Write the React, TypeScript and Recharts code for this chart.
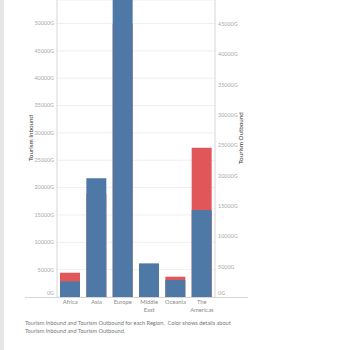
import React from 'react';
import { ComposedChart, Bar, XAxis, YAxis, CartesianGrid } from 'recharts';

const regions = ['Africa', 'Asia', 'Europe', 'Middle East', 'Oceania', 'The Americas'];
const inbound = [2850, 21700, 60000, 6150, 3100, 15900];
const outbound = [4000, 17000, 45000, 4500, 3350, 24600];
const leftTicks = [0, 5000, 10000, 15000, 20000, 25000, 30000, 35000, 40000, 45000, 50000];
const rightTicks = [0, 5000, 10000, 15000, 20000, 25000, 30000, 35000, 40000, 45000];
const caption1 = 'Tourism Inbound and Tourism Outbound for each Region.  Color shows details about';
const caption2 = 'Tourism Inbound and Tourism Outbound.';

const data = regions.map((r, i) => ({ region: r, inbound: inbound[i], outbound: outbound[i] }));

const FONT = 'Lato, "Open Sans", sans-serif';

const LeftTick = (props: any) => {
  const { x, y, payload } = props;
  const dy = payload.value === 0 ? -4 : 0;
  return (
    <text x={x} y={y + dy} dy="0.35em" textAnchor="end" fontSize={5.4} fill="#a8a8a8" fontFamily={FONT}>
      {`${payload.value}G`}
    </text>
  );
};

const RightTick = (props: any) => {
  const { x, y, payload } = props;
  const dy = payload.value === 0 ? -4 : 0;
  return (
    <text x={x} y={y + dy} dy="0.35em" textAnchor="start" fontSize={5.4} fill="#a8a8a8" fontFamily={FONT}>
      {`${payload.value}G`}
    </text>
  );
};

const XTick = (props: any) => {
  const { x, y, payload } = props;
  const parts = String(payload.value).split(' ');
  return (
    <text x={x} y={y} textAnchor="middle" fontSize={5.8} fill="#8a8a8a" fontFamily={FONT}>
      {parts.map((p, i) => (
        <tspan key={i} x={x} y={y + 7 + i * 8}>{p}</tspan>
      ))}
    </text>
  );
};

export default function App() {
  return (
    <div style={{ position: 'absolute', left: 0, top: 0, width: 350, height: 350, background: '#fff', overflow: 'hidden' }}>
      <div style={{ position: 'absolute', left: 0, top: 0, width: 4, height: 350, background: '#e6e6e6' }} />
      <ComposedChart width={350} height={350} data={data} margin={{ top: 0, right: 0, bottom: 0, left: 0 }}>
        <CartesianGrid yAxisId="left" xAxisId="a" vertical={false} stroke="#efefef" />
        <XAxis xAxisId="a" dataKey="region" height={53} axisLine={false} tickLine={false} tickSize={0} tickMargin={0} tick={<XTick />} interval={0} />
        <XAxis xAxisId="b" dataKey="region" hide />
        <YAxis
          yAxisId="left"
          orientation="left"
          width={57}
          domain={[0, 54300]}
          ticks={leftTicks}
          allowDataOverflow
          axisLine={{ stroke: '#d6d6d6' }}
          tickLine={false}
          tickSize={0}
          tickMargin={3}
          tick={<LeftTick />}
          interval={0}
        />
        <YAxis
          yAxisId="right"
          orientation="right"
          width={135}
          domain={[0, 48960]}
          ticks={rightTicks}
          allowDataOverflow
          axisLine={{ stroke: '#d6d6d6' }}
          tickLine={false}
          tickSize={0}
          tickMargin={3}
          tick={<RightTick />}
          interval={0}
        />
        <Bar xAxisId="b" yAxisId="right" dataKey="outbound" fill="#e15759" barSize={20} isAnimationActive={false} />
        <Bar xAxisId="a" yAxisId="left" dataKey="inbound" fill="#4e79a7" barSize={20} isAnimationActive={false} />
      </ComposedChart>
      <div style={{ position: 'absolute', left: 25, top: 297, width: 223, height: 1, background: '#d6d6d6' }} />
      <div style={{ position: 'absolute', left: 31, top: 138, width: 0, height: 0 }}>
        <div style={{ position: 'absolute', left: 0, top: 0, transform: 'translate(-50%, -50%) rotate(-90deg)', whiteSpace: 'nowrap', fontSize: 6.3, color: '#333', fontFamily: FONT, lineHeight: 1 }}>
          Tourism Inbound
        </div>
      </div>
      <div style={{ position: 'absolute', left: 241, top: 138, width: 0, height: 0 }}>
        <div style={{ position: 'absolute', left: 0, top: 0, transform: 'translate(-50%, -50%) rotate(-90deg)', whiteSpace: 'nowrap', fontSize: 6.3, color: '#333', fontFamily: FONT, lineHeight: 1 }}>
          Tourism Outbound
        </div>
      </div>
      <div style={{ position: 'absolute', left: 25, top: 319, fontSize: 5.6, color: '#777', fontFamily: FONT, lineHeight: '8px', whiteSpace: 'pre' }}>
        <div>{caption1}</div>
        <div>{caption2}</div>
      </div>
    </div>
  );
}
